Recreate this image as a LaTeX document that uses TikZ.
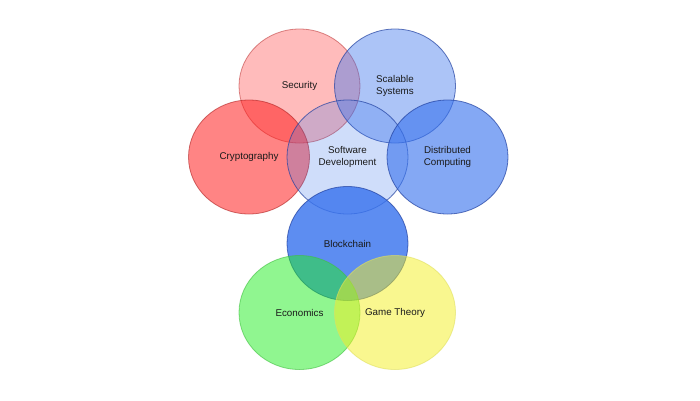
\documentclass[tikz,border=0pt]{standalone}
\usepackage{fontspec}
\setmainfont{Liberation Sans}
\usetikzlibrary{shapes.geometric}
\definecolor{secF}{HTML}{FF6A6A}
\definecolor{secD}{HTML}{C04040}
\definecolor{cryF}{HTML}{FF2020}
\definecolor{cryD}{HTML}{B02020}
\definecolor{bluF}{HTML}{3A74EE}
\definecolor{bluD}{HTML}{2040A0}
\definecolor{greF}{HTML}{22EE22}
\definecolor{greD}{HTML}{40C040}
\definecolor{yelF}{HTML}{F5F020}
\definecolor{yelD}{HTML}{E0E060}
\definecolor{txt}{HTML}{1A1A1A}
\begin{document}
\begin{tikzpicture}[x=1pt,y=-1pt,
  venn/.style={ellipse, minimum width=121pt, minimum height=114pt, inner sep=0pt,
    align=center, font=\fontsize{9.8}{11.5}\selectfont, text=txt, text opacity=1, line width=0.8pt},
  secstyle/.style={venn, fill=secF, fill opacity=0.45, draw=secD, draw opacity=0.6},
  crystyle/.style={venn, fill=cryF, fill opacity=0.55, draw=cryD, draw opacity=0.6},
  scastyle/.style={venn, fill=bluF, fill opacity=0.42, draw=bluD, draw opacity=0.7},
  sdstyle/.style={venn, fill=bluF, fill opacity=0.24, draw=bluD, draw opacity=0.7},
  diststyle/.style={venn, fill=bluF, fill opacity=0.62, draw=bluD, draw opacity=0.7},
  blkstyle/.style={venn, fill=bluF, fill opacity=0.82, draw=bluD, draw opacity=0.7},
  ecostyle/.style={venn, fill=greF, fill opacity=0.5, draw=greD, draw opacity=0.6},
  gamestyle/.style={venn, fill=yelF, fill opacity=0.5, draw=yelD, draw opacity=0.6}]
\useasboundingbox (0,0) rectangle (700,400);
\fill[white] (0,0) rectangle (700,400);
\node[secstyle] (sec) at (299.5,86) {Security};
\node[scastyle] (sca) at (395,86) {Scalable\\Systems};
\node[crystyle] (cry) at (249,157) {Cryptography};
\node[sdstyle] (sd) at (347.5,157) {Software\\Development};
\node[diststyle] (dist) at (447.5,157) {Distributed\\Computing};
\node[blkstyle] (blk) at (347.5,243.5) {Blockchain};
\node[ecostyle] (eco) at (299.5,312.5) {Economics};
\node[gamestyle] (game) at (395,312.5) {Game Theory};
\end{tikzpicture}
\end{document}
